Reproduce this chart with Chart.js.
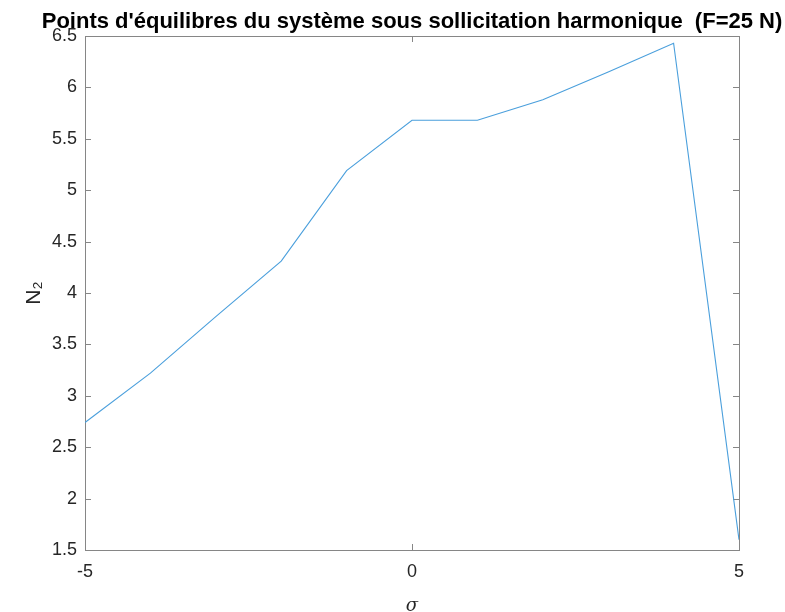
<!DOCTYPE html>
<html>
<head>
<meta charset="utf-8">
<script src="https://cdn.jsdelivr.net/npm/chart.js@4.4.1/dist/chart.umd.min.js"></script>
<style>
  html, body { margin: 0; padding: 0; background: #fff; }
  #wrap { width: 785px; height: 612px; }
</style>
</head>
<body>
<div id="wrap"><canvas id="plot" width="785" height="612"></canvas></div>
<script>
// sigma values and equilibrium N2
const sigma = [-5, -4, -3, -2, -1, 0, 1, 2, 3, 4, 5];
const n2 = [2.74, 3.22, 3.77, 4.31, 5.19, 5.68, 5.68, 5.88, 6.15, 6.43, 1.6];

const xTicks = [-5, 0, 5];
const yTicks = [1.5, 2, 2.5, 3, 3.5, 4, 4.5, 5, 5.5, 6, 6.5];

const titleText = "Points d'équilibres du système sous sollicitation harmonique  (F=25 N)";
const axisColor = '#868686';
const textColor = '#262626';
const font = "'Liberation Sans', Arial, Helvetica, sans-serif";

// box around the axes with ticks pointing inwards on all four sides
const boxPlugin = {
    id: 'boxTicks',
    beforeDatasetsDraw(chart) {
        const { ctx, chartArea: a, scales } = chart;
        const len = 6;
        ctx.save();
        ctx.strokeStyle = axisColor;
        ctx.lineWidth = 1;
        ctx.strokeRect(a.left + 0.5, a.top + 0.5, a.right - a.left, a.bottom - a.top);
        ctx.beginPath();
        scales.y.ticks.forEach(t => {
            const y = Math.round(scales.y.getPixelForValue(t.value)) + 0.5;
            ctx.moveTo(a.left, y); ctx.lineTo(a.left + len, y);
            ctx.moveTo(a.right, y); ctx.lineTo(a.right - len, y);
        });
        scales.x.ticks.forEach(t => {
            const x = Math.round(scales.x.getPixelForValue(t.value)) + 0.5;
            ctx.moveTo(x, a.bottom); ctx.lineTo(x, a.bottom - len);
            ctx.moveTo(x, a.top); ctx.lineTo(x, a.top + len);
        });
        ctx.stroke();
        ctx.restore();
    }
};

// title centred over the axes, allowed to run wider than the plot box
const titlePlugin = {
    id: 'wideTitle',
    afterDraw(chart) {
        const { ctx, chartArea: a } = chart;
        ctx.save();
        ctx.fillStyle = '#000';
        ctx.font = 'bold 22px ' + font;
        ctx.textAlign = 'center';
        ctx.textBaseline = 'alphabetic';
        ctx.fillText(titleText, (a.left + a.right) / 2, 28);
        ctx.restore();
    }
};

new Chart(document.getElementById('plot'), {
    type: 'scatter',
    data: {
        datasets: [{
            data: sigma.map((s, i) => ({ x: s, y: n2[i] })),
            showLine: true,
            borderColor: '#4a9fdc',
            borderWidth: 1.1,
            pointRadius: 0,
            tension: 0
        }]
    },
    options: {
        responsive: false,
        animation: false,
        layout: { padding: { top: 36, right: 46, bottom: 0, left: 0 } },
        plugins: {
            legend: { display: false },
            tooltip: { enabled: false },
            title: { display: false }
        },
        scales: {
            x: {
                type: 'linear',
                min: -5,
                max: 5,
                afterBuildTicks: s => { s.ticks = xTicks.map(v => ({ value: v })); },
                afterFit: s => { s.height = 62; },
                grid: { display: false, drawTicks: false },
                border: { display: false },
                ticks: {
                    color: textColor,
                    font: { family: font, size: 18 },
                    padding: 11,
                    maxRotation: 0,
                    callback: v => String(v)
                },
                title: {
                    display: true,
                    text: 'σ',
                    color: textColor,
                    font: { family: "'DejaVu Serif', serif", size: 18, style: 'italic', lineHeight: 1 },
                    padding: { top: 0, bottom: -3 }
                }
            },
            y: {
                min: 1.5,
                max: 6.5,
                afterBuildTicks: s => { s.ticks = yTicks.map(v => ({ value: v })); },
                afterFit: s => { s.width = 85; },
                grid: { display: false, drawTicks: false },
                border: { display: false },
                ticks: {
                    color: textColor,
                    font: { family: font, size: 18 },
                    padding: 8,
                    callback: v => String(v)
                },
                title: {
                    display: true,
                    text: 'N₂',
                    color: textColor,
                    font: { family: font, size: 21 },
                    padding: { top: 22, bottom: 0 }
                }
            }
        }
    },
    plugins: [boxPlugin, titlePlugin]
});
</script>
</body>
</html>
